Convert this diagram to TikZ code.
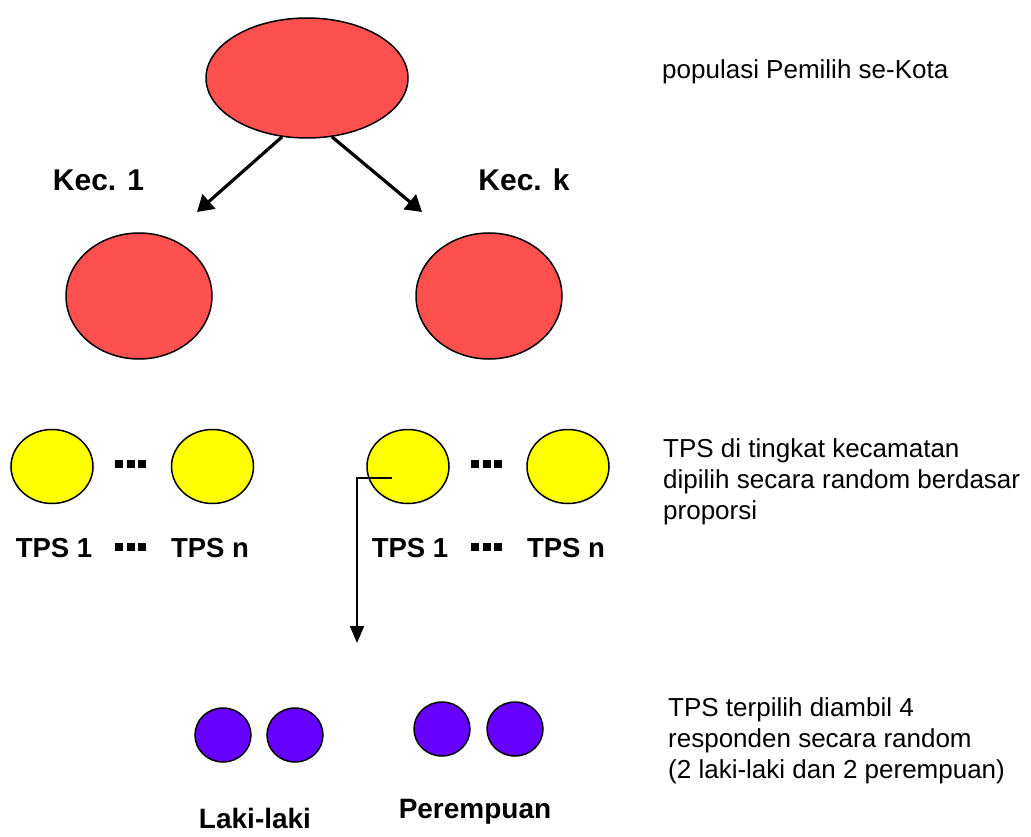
\documentclass[tikz,border=0pt]{standalone}
\usepackage{fontspec}
\setmainfont{Liberation Sans}
\usetikzlibrary{arrows.meta,shapes.geometric}
\definecolor{kred}{HTML}{FF5050}
\definecolor{kyel}{HTML}{FFFF00}
\definecolor{kpur}{HTML}{6600FF}
\newcommand{\kdots}{\rule{8pt}{8pt}\hspace{3.5pt}\rule{8pt}{8pt}\hspace{3.5pt}\rule{8pt}{8pt}}
\begin{document}
\begin{tikzpicture}[x=1pt,y=-1pt,
  shp/.style={ellipse,draw=black,line width=1.5pt,inner sep=0pt},
  redell/.style={shp,fill=kred},
  yelc/.style={shp,fill=kyel,minimum width=82pt,minimum height=74pt},
  purc/.style={shp,fill=kpur,minimum width=56pt,minimum height=54pt},
  lbl/.style={font=\fontsize{28}{33}\selectfont\bfseries,inner sep=0pt},
  klbl/.style={font=\fontsize{30}{34}\selectfont\bfseries,inner sep=0pt},
  tlbl/.style={font=\fontsize{27.5}{33}\selectfont\bfseries,inner sep=0pt},
  dts/.style={inner sep=0pt},
  note/.style={font=\fontsize{26}{31}\selectfont,inner sep=0pt,align=left,anchor=north west},
  arr/.style={line width=3.2pt,-{Triangle[length=16pt,width=19pt]}},
  arrv/.style={line width=2pt,-{Triangle[length=17pt,width=14pt]}}]
\useasboundingbox (0,0) rectangle (1031,837);
\node[redell,minimum width=202pt,minimum height=120pt] (top) at (307,78) {};
\node[redell,minimum width=146pt,minimum height=126pt] (kc1) at (139,296) {};
\node[redell,minimum width=146pt,minimum height=126pt] (kck) at (489,296) {};
\coordinate (k1) at (197,212);
\coordinate (kk) at (422,212);
\draw[arr] (top.-113) -- (k1);
\draw[arr] (top.-67) -- (kk);
\node[klbl] (lk1) at (98.5,180) {Kec. 1};
\node[klbl] (lkk) at (524,180) {Kec. k};
% yellow
\node[yelc] (y1) at (52,466.5) {};
\node[yelc] (y2) at (212.5,466.5) {};
\node[yelc] (y3) at (408,466.5) {};
\node[yelc] (y4) at (568,466.5) {};
\node[dts] (d1) at (130.5,464) {\kdots};
\node[dts] (d2) at (486.5,464) {\kdots};
\node[tlbl] (t1) at (54,548) {TPS 1};
\node[dts] (d3) at (130.5,547) {\kdots};
\node[tlbl] (tn) at (210,548) {TPS n};
\node[tlbl] (t1b) at (410,548) {TPS 1};
\node[dts] (d4) at (486.5,547) {\kdots};
\node[tlbl] (tnb) at (566,548) {TPS n};
% elbow connector
\coordinate (es) at (392,478);
\coordinate (ee) at (357,643);
\draw[arrv] (es) -| (ee);
% purple
\node[purc] (p1) at (223,735) {};
\node[purc] (p2) at (295,735) {};
\node[purc] (p3) at (442,729) {};
\node[purc] (p4) at (515,729) {};
\node[lbl] (ll) at (255,818) {Laki-laki};
\node[lbl] (pp) at (475,812) {Perempuan};
% notes
\node[note] (n1) at (662,59) {populasi Pemilih se-Kota};
\node[note] (n2) at (663,438) {TPS di tingkat kecamatan\\dipilih secara random berdasar\\proporsi};
\node[note] (n3) at (668,697) {TPS terpilih diambil 4\\responden secara random\\(2 laki-laki dan 2 perempuan)};
\end{tikzpicture}
\end{document}
